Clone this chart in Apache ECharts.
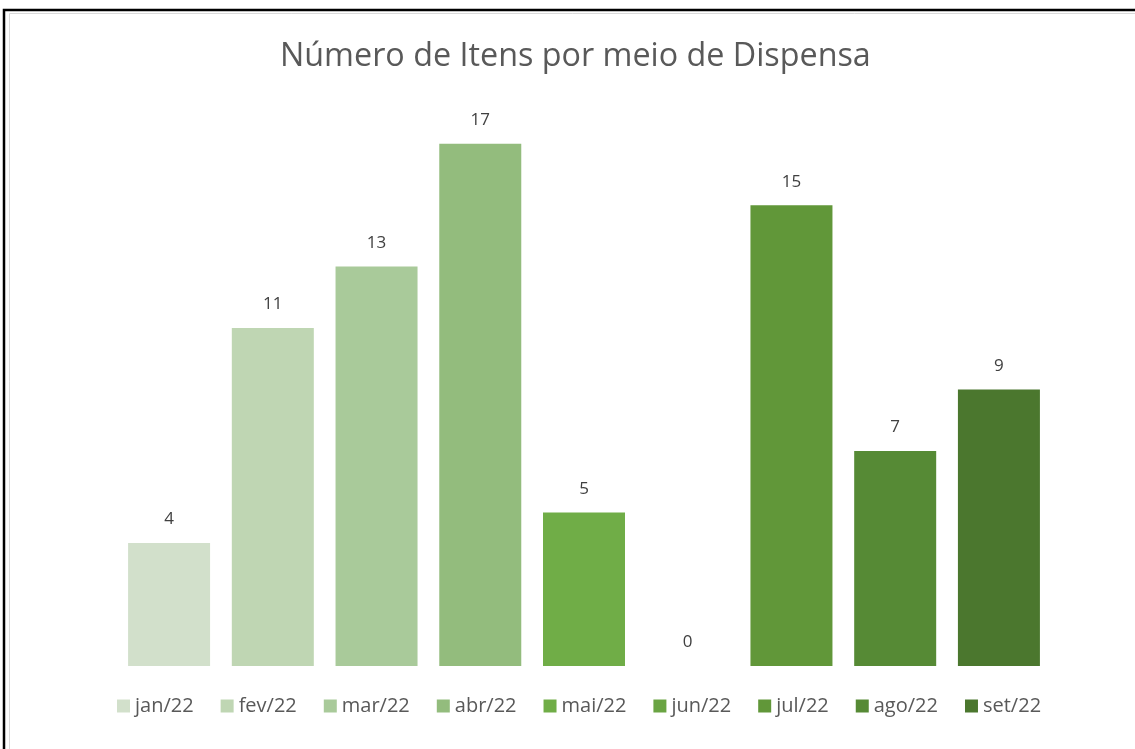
<!DOCTYPE html>
<html>
<head>
<meta charset="utf-8">
<script src="https://cdn.jsdelivr.net/npm/echarts@6/dist/echarts.min.js"></script>
<style>
html,body{margin:0;padding:0;background:#fff;}
#chart{width:1135px;height:749px;}
</style>
</head>
<body>
<div id="chart"></div>
<script>
const months = ['jan/22','fev/22','mar/22','abr/22','mai/22','jun/22','jul/22','ago/22','set/22'];
const values = [4, 11, 13, 17, 5, 0, 15, 7, 9];
const colors = ['#D2E0CB','#BFD6B3','#A9CA9A','#93BC7D','#70AD47','#6AA443','#619739','#568A35','#4B772E'];
const titleText = 'Número de Itens por meio de Dispensa';

const font = '"Open Sans", "Noto Sans", sans-serif';
const chart = echarts.init(document.getElementById('chart'));
const series = months.map((m, i) => ({
  name: m,
  type: 'bar',
  data: [values[i]],
  barWidth: 82,
  barGap: '26.5%',
  itemStyle: { color: colors[i] },
  label: { show: true, position: 'top', distance: 15, color: '#404040', fontSize: 17, fontFamily: font }
}));

chart.setOption({
  animation: false,
  backgroundColor: '#fff',
  title: {
    text: titleText, left: 275, top: 36,
    textStyle: { color: '#595959', fontSize: 32.3, fontWeight: 'normal', fontFamily: font }
  },
  legend: {
    bottom: 28, left: 112,
    itemWidth: 13, itemHeight: 13, itemGap: 27,
    icon: 'rect',
    textStyle: { color: '#595959', fontSize: 20, fontFamily: font },
    data: months
  },
  grid: { left: 40, right: 7, top: 113, bottom: 83 },
  xAxis: { type: 'category', data: [''], axisLine: { show: false }, axisTick: { show: false }, axisLabel: { show: false } },
  yAxis: { type: 'value', min: 0, max: 18, show: false, splitLine: { show: false } },
  series: series,
  graphic: [
    { type: 'rect', shape: { x: 4, y: 10, width: 1200, height: 800 }, style: { fill: 'none', stroke: '#000', lineWidth: 2.5 }, silent: true },
    { type: 'rect', shape: { x: 9.5, y: 13.5, width: 1200, height: 800 }, style: { fill: 'none', stroke: '#d9d9d9', lineWidth: 1 }, silent: true }
  ]
});
</script>
</body>
</html>
